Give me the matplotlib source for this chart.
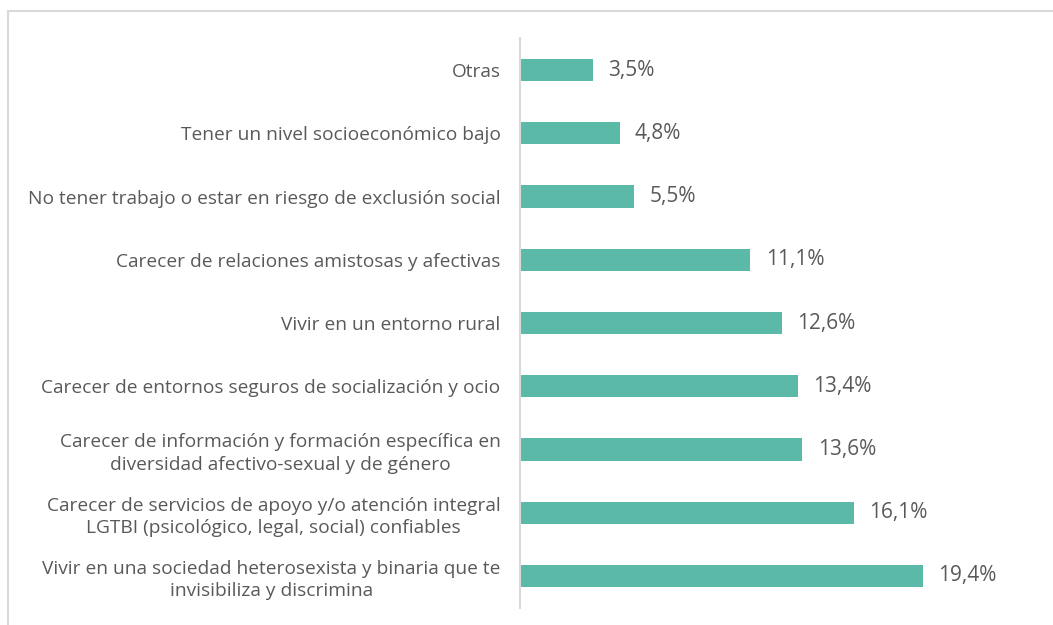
import matplotlib.pyplot as plt
from matplotlib.patches import Rectangle

plt.rcParams['font.family'] = ['Open Sans', 'DejaVu Sans']

categorias = [
    'Vivir en una sociedad heterosexista y binaria que te\ninvisibiliza y discrimina',
    'Carecer de servicios de apoyo y/o atención integral\nLGTBI (psicológico, legal, social) confiables',
    'Carecer de información y formación específica en\ndiversidad afectivo-sexual y de género',
    'Carecer de entornos seguros de socialización y ocio',
    'Vivir en un entorno rural',
    'Carecer de relaciones amistosas y afectivas',
    'No tener trabajo o estar en riesgo de exclusión social',
    'Tener un nivel socioeconómico bajo',
    'Otras',
]
porcentajes = [19.4, 16.1, 13.6, 13.4, 12.6, 11.1, 5.5, 4.8, 3.5]

gris = '#595959'
fig = plt.figure(figsize=(10.53, 6.25), dpi=100)
# marco exterior
fig.patches.append(Rectangle((8 / 1053, -0.1), 1.2, (625 - 11) / 625 + 0.1,
                             transform=fig.transFigure, fill=False,
                             edgecolor='#d9d9d9', linewidth=1.5))

ax = fig.add_axes([520 / 1053, 1 - 607.6 / 625, 519 / 1053, (607.6 - 38.4) / 625])
y = list(range(len(categorias)))
barras = ax.barh(y, porcentajes, height=0.35, color='#5bbaa7')
ax.bar_label(barras, labels=[f'{v:.1f}%'.replace('.', ',') for v in porcentajes],
             padding=11, color=gris, fontsize=15)

ax.set_xlim(0, 25)
ax.set_ylim(-0.5, len(categorias) - 0.5)
ax.set_yticks(y)
ax.set_yticklabels(categorias, fontsize=13.8, color=gris)
for t in ax.get_yticklabels():
    t.set_multialignment('center')
    t.set_linespacing(1.3)
ax.tick_params(axis='y', length=0, pad=14)
ax.set_xticks([])
for s in ['top', 'right', 'bottom']:
    ax.spines[s].set_visible(False)
ax.spines['left'].set_color('#d9d9d9')
ax.spines['left'].set_linewidth(1.5)

fig.savefig('out.png', dpi=100)
